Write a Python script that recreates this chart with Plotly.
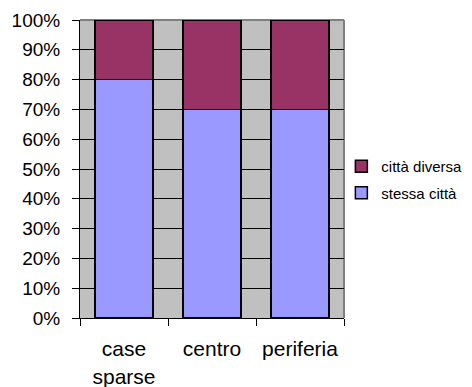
import plotly.graph_objects as go

categories = ["case<br>sparse", "centro", "periferia"]
stessa_citta = [0.80, 0.70, 0.70]
citta_diversa = [0.20, 0.30, 0.30]
y_tickvals = [0, 0.1, 0.2, 0.3, 0.4, 0.5, 0.6, 0.7, 0.8, 0.9, 1.0]
y_ticktext = ["0%", "10%", "20%", "30%", "40%", "50%", "60%", "70%", "80%", "90%", "100%"]

fig = go.Figure()
fig.add_trace(go.Bar(
    x=categories, y=stessa_citta, name="stessa città", legendgroup="a", legendrank=2,
    marker=dict(color="#9999FF", line=dict(color="black", width=1.5)),
))
fig.add_trace(go.Bar(
    x=categories, y=citta_diversa, name="città diversa", legendgroup="b", legendrank=1,
    marker=dict(color="#993366", line=dict(color="black", width=1.5)),
))

font = "Arial, Liberation Sans, sans-serif"
fig.update_layout(
    barmode="stack",
    bargap=0.34,
    width=464, height=379,
    margin=dict(l=72, r=128, t=12, b=69, pad=0, autoexpand=False),
    paper_bgcolor="white",
    plot_bgcolor="#C0C0C0",
    font=dict(family=font, color="black"),
    legend=dict(
        x=0.99, y=0.465, xanchor="left", yanchor="middle",
        traceorder="grouped",
        font=dict(family=font, size=15, color="black"),
        bgcolor="rgba(0,0,0,0)",
        tracegroupgap=4,
    ),
    xaxis=dict(
        showline=True, linecolor="black", linewidth=1,
        ticks="outside", tickson="boundaries", ticklen=7, tickcolor="black",
        tickfont=dict(size=21, family=font, color="black"),
        showgrid=False, ticklabelstandoff=12, automargin=False,
    ),
    yaxis=dict(
        range=[0, 1], tickvals=y_tickvals, ticktext=y_ticktext,
        showline=True, linecolor="black", linewidth=1,
        ticks="outside", ticklen=7, tickcolor="black",
        tickfont=dict(size=19, family=font, color="black"),
        showgrid=True, gridcolor="black", gridwidth=1,
        zeroline=False, ticklabelstandoff=8, automargin=False,
    ),
    shapes=[
        dict(type="line", xref="paper", yref="paper", x0=0, x1=1, y0=1, y1=1,
             line=dict(color="#808080", width=2), layer="between"),
        dict(type="line", xref="paper", yref="paper", x0=1, x1=1, y0=0, y1=1,
             line=dict(color="#808080", width=2), layer="between"),
    ],
)

fig.write_html("out.html")
